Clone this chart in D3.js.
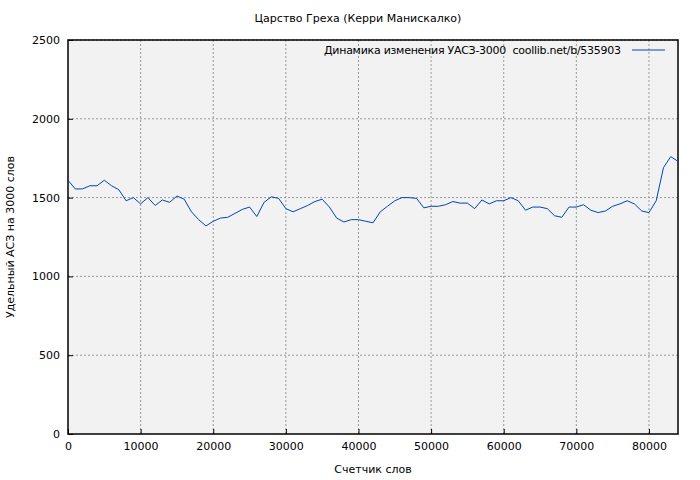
<!DOCTYPE html>
<html><head><meta charset="utf-8">
<script src="https://cdn.jsdelivr.net/npm/d3@7"></script>
<style>body{margin:0;background:#fff}text{font-family:"DejaVu Sans",sans-serif;font-size:11px;fill:#000}</style>
</head><body><svg id="chart"></svg>
<script>
const words = [0,1000,2000,3000,4000,5000,6000,7000,8000,9000,10000,11000,12000,13000,14000,15000,16000,17000,18000,19000,20000,21000,22000,23000,24000,25000,26000,27000,28000,29000,30000,31000,32000,33000,34000,35000,36000,37000,38000,39000,40000,41000,42000,43000,44000,45000,46000,47000,48000,49000,50000,51000,52000,53000,54000,55000,56000,57000,58000,59000,60000,61000,62000,63000,64000,65000,66000,67000,68000,69000,70000,71000,72000,73000,74000,75000,76000,77000,78000,79000,80000,81000,82000,83000,84000];
const values = [1610,1555,1555,1575,1575,1610,1575,1550,1480,1500,1460,1500,1450,1485,1470,1510,1490,1410,1360,1320,1350,1370,1375,1400,1425,1440,1380,1470,1505,1495,1430,1410,1430,1450,1475,1490,1440,1370,1345,1360,1360,1350,1340,1410,1445,1480,1500,1500,1495,1435,1445,1445,1455,1475,1465,1465,1430,1485,1460,1480,1480,1500,1480,1420,1440,1440,1430,1385,1375,1440,1440,1455,1420,1405,1415,1445,1460,1480,1460,1415,1405,1480,1690,1760,1730];
const xTicks = [0,10000,20000,30000,40000,50000,60000,70000,80000];
const yTicks = [0,500,1000,1500,2000,2500];

const W = 700, H = 480, L = 68, R = 678, T = 40, B = 434;
const svg = d3.select('#chart').attr('width', W).attr('height', H);
const x = d3.scaleLinear().domain([0, 84000]).range([L, R]);
const y = d3.scaleLinear().domain([0, 2500]).range([B, T]);

svg.append('rect').attr('x', L).attr('y', T).attr('width', R - L).attr('height', B - T).attr('fill', '#f2f2f2');

// grid
svg.append('g').selectAll('line').data(xTicks.slice(1)).enter().append('line')
    .attr('x1', d => x(d)).attr('x2', d => x(d)).attr('y1', T).attr('y2', B)
    .attr('stroke', '#999').attr('stroke-dasharray', '2,2');
svg.append('g').selectAll('line').data(yTicks.slice(1)).enter().append('line')
    .attr('x1', L).attr('x2', R).attr('y1', d => y(d)).attr('y2', d => y(d))
    .attr('stroke', '#999').attr('stroke-dasharray', '2,2');

const xAxis = svg.append('g').attr('transform', `translate(0,${B})`)
    .call(d3.axisBottom(x).tickValues(xTicks).tickFormat(d3.format('d')).tickSize(-5).tickPadding(8));
const yAxis = svg.append('g').attr('transform', `translate(${L},0)`)
    .call(d3.axisLeft(y).tickValues(yTicks).tickFormat(d3.format('d')).tickSize(-5).tickPadding(8));
[xAxis, yAxis].forEach(a => {
    a.select('.domain').remove();
    a.selectAll('line').attr('stroke', '#000');
    a.selectAll('text').style('font-family', '"DejaVu Sans",sans-serif').style('font-size', '11px');
});
svg.append('rect').attr('x', L).attr('y', T).attr('width', R - L).attr('height', B - T)
    .attr('fill', 'none').attr('stroke', '#000').attr('stroke-width', 1.5);

svg.append('path').datum(d3.zip(words, values))
    .attr('fill', 'none').attr('stroke', '#0044bb').attr('stroke-width', 1)
    .attr('d', d3.line().x(d => x(d[0])).y(d => y(d[1])));

svg.append('text').attr('x', 358).attr('y', 22).attr('text-anchor', 'middle').text('Царство Греха (Керри Манискалко)');
svg.append('text').attr('x', 373).attr('y', 473).attr('text-anchor', 'middle').text('Счетчик слов');
svg.append('text').attr('transform', 'translate(14,237) rotate(-90)').attr('text-anchor', 'middle').text('Удельный АСЗ на 3000 слов');

svg.append('text').attr('x', 621).attr('y', 54).attr('text-anchor', 'end')
    .style('white-space', 'pre').attr('textLength', 297)
    .text('Динамика изменения УАСЗ-3000  coollib.net/b/535903');
svg.append('line').attr('x1', 632).attr('x2', 665).attr('y1', 50).attr('y2', 50).attr('stroke', '#0044bb');
</script></body></html>
